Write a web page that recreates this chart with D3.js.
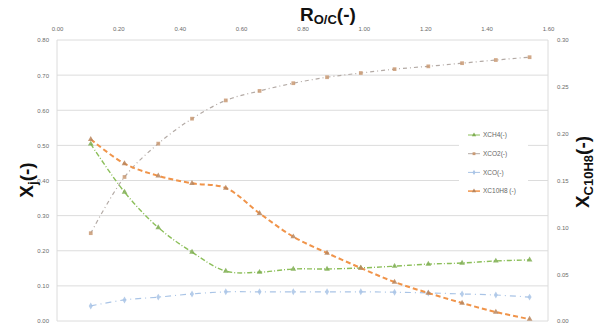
<!DOCTYPE html>
<html>
<head>
<meta charset="utf-8">
<script src="https://cdn.jsdelivr.net/npm/d3@7"></script>
<style>
  html, body { margin: 0; padding: 0; background: #fff; }
  svg { display: block; }
  text { font-family: "Liberation Sans", "DejaVu Sans", sans-serif; }
</style>
</head>
<body>
<svg id="chart" width="596" height="327"></svg>
<script>
// Oxygen-to-carbon ratio (top axis)
const rOC = [0.11, 0.22, 0.33, 0.44, 0.55, 0.66, 0.77, 0.88, 0.99, 1.10, 1.21, 1.32, 1.43, 1.54];

// Mole fractions on the left axis
const xCH4 = [0.504, 0.367, 0.266, 0.196, 0.142, 0.139, 0.148, 0.148, 0.151, 0.156, 0.162, 0.165, 0.171, 0.174];
const xCO2 = [0.250, 0.410, 0.505, 0.576, 0.628, 0.655, 0.677, 0.694, 0.706, 0.717, 0.725, 0.734, 0.743, 0.751];
const xCO  = [0.043, 0.060, 0.068, 0.077, 0.083, 0.083, 0.083, 0.083, 0.083, 0.082, 0.080, 0.077, 0.074, 0.068];

// Naphthalene fraction on the right axis
const xC10H8 = [0.194, 0.168, 0.155, 0.147, 0.142, 0.115, 0.090, 0.0726, 0.0566, 0.0416, 0.0299, 0.0192, 0.0096, 0.002];

const xTicks = [0, 0.2, 0.4, 0.6, 0.8, 1.0, 1.2, 1.4, 1.6];
const yLeftTicks = [0, 0.1, 0.2, 0.3, 0.4, 0.5, 0.6, 0.7, 0.8];
const yRightTicks = [0, 0.05, 0.10, 0.15, 0.20, 0.25, 0.30];

const seriesNames = ["XCH4(-)", "XCO2(-)", "XCO(-)", "XC10H8 (-)"];

const svg = d3.select("#chart");
const L = 57, R = 548, T = 40, B = 321;

const x = d3.scaleLinear().domain([0, 1.6]).range([L, R]);
const yL = d3.scaleLinear().domain([0, 0.8]).range([B, T]);
const yR = d3.scaleLinear().domain([0, 0.3]).range([B, T]);

// gridlines from the left axis
svg.append("g").selectAll("line").data(yLeftTicks).join("line")
  .attr("x1", L).attr("x2", R)
  .attr("y1", d => yL(d)).attr("y2", d => yL(d))
  .attr("stroke", "#dcdcdc").attr("stroke-width", 1);

// plot frame lines (left and right vertical edges)
svg.append("line").attr("x1", L).attr("x2", L).attr("y1", T).attr("y2", B)
  .attr("stroke", "#dcdcdc");
svg.append("line").attr("x1", R).attr("x2", R).attr("y1", T).attr("y2", B)
  .attr("stroke", "#dcdcdc");

// axes
const fmt = d3.format(".2f");
const axTop = svg.append("g").attr("transform", `translate(0,${T - 6})`)
  .call(d3.axisTop(x).tickValues(xTicks).tickFormat(fmt).tickSize(0));
const axLeft = svg.append("g").attr("transform", `translate(${L - 5},0)`)
  .call(d3.axisLeft(yL).tickValues(yLeftTicks).tickFormat(fmt).tickSize(0));
const axRight = svg.append("g").attr("transform", `translate(${R + 6},0)`)
  .call(d3.axisRight(yR).tickValues(yRightTicks).tickFormat(fmt).tickSize(0));
[axTop, axLeft, axRight].forEach(g => {
  g.select(".domain").remove();
  g.selectAll("text").attr("font-size", 6).attr("fill", "#6b6b6b")
    .attr("font-family", "'Liberation Sans', sans-serif");
});

// series definitions
const series = [
  { name: seriesNames[0], vals: xCH4, y: yL, color: "#8cbf5a", marker: "#7fae52", dash: "5,2,1,2", width: 1.4, sym: d3.symbolTriangle },
  { name: seriesNames[1], vals: xCO2, y: yL, color: "#b3aaa5", marker: "#c99a74", dash: "4,3,1,3", width: 1.2, sym: d3.symbolSquare },
  { name: seriesNames[2], vals: xCO,  y: yL, color: "#a9c4e6", marker: "#a9c4e6", dash: "6,4,1,4", width: 1.2, sym: d3.symbolDiamond },
  { name: seriesNames[3], vals: xC10H8, y: yR, color: "#f0944a", marker: "#b9865e", dash: "5,3", width: 2, sym: d3.symbolTriangle }
];

const plot = svg.append("g");
series.forEach(s => {
  const pts = rOC.map((r, i) => [r, s.vals[i]]);
  const line = d3.line().x(d => x(d[0])).y(d => s.y(d[1])).curve(d3.curveCatmullRom.alpha(0.5));
  plot.append("path").datum(pts).attr("d", line)
    .attr("fill", "none").attr("stroke", s.color)
    .attr("stroke-width", s.width).attr("stroke-dasharray", s.dash);
  plot.append("g").selectAll("path").data(pts).join("path")
    .attr("transform", d => `translate(${x(d[0])},${s.y(d[1])})`)
    .attr("d", d3.symbol().type(s.sym).size(14))
    .attr("fill", s.marker).attr("opacity", 0.85);
});

// legend
const lg = svg.append("g");
lg.append("rect").attr("x", 459).attr("y", 125).attr("width", 69).attr("height", 76).attr("fill", "#fff");
series.forEach((s, i) => {
  const yy = 135 + i * 18.7;
  lg.append("line").attr("x1", 468).attr("x2", 480).attr("y1", yy).attr("y2", yy)
    .attr("stroke", s.color).attr("stroke-width", i === 3 ? 1.5 : 1);
  lg.append("path").attr("transform", `translate(474,${yy})`)
    .attr("d", d3.symbol().type(s.sym).size(8)).attr("fill", s.marker);
  lg.append("text").attr("x", 483).attr("y", yy + 2.2).text(s.name)
    .attr("font-size", 6.5).attr("fill", "#666");
});

// axis titles
const title = svg.append("text").attr("x", 300).attr("y", 21)
  .attr("font-size", 19).attr("font-weight", "bold").attr("fill", "#111");
title.append("tspan").text("R");
title.append("tspan").text("O/C").attr("font-size", 13).attr("dy", 3);
title.append("tspan").text("(-)").attr("dy", -3);

const yTitle = svg.append("text")
  .attr("transform", "translate(33,180) rotate(-90)")
  .attr("text-anchor", "middle")
  .attr("font-size", 19).attr("font-weight", "bold").attr("fill", "#111");
yTitle.append("tspan").text("X");
yTitle.append("tspan").text("j").attr("font-size", 13).attr("dy", 4);
yTitle.append("tspan").text("(-)").attr("dy", -4);

const y2Title = svg.append("text")
  .attr("transform", "translate(589,172) rotate(-90)")
  .attr("text-anchor", "middle")
  .attr("font-size", 19).attr("font-weight", "bold").attr("fill", "#111");
y2Title.append("tspan").text("X");
y2Title.append("tspan").text("C10H8").attr("font-size", 13).attr("dy", 4);
y2Title.append("tspan").text("(-)").attr("dy", -4);
</script>
</body>
</html>
